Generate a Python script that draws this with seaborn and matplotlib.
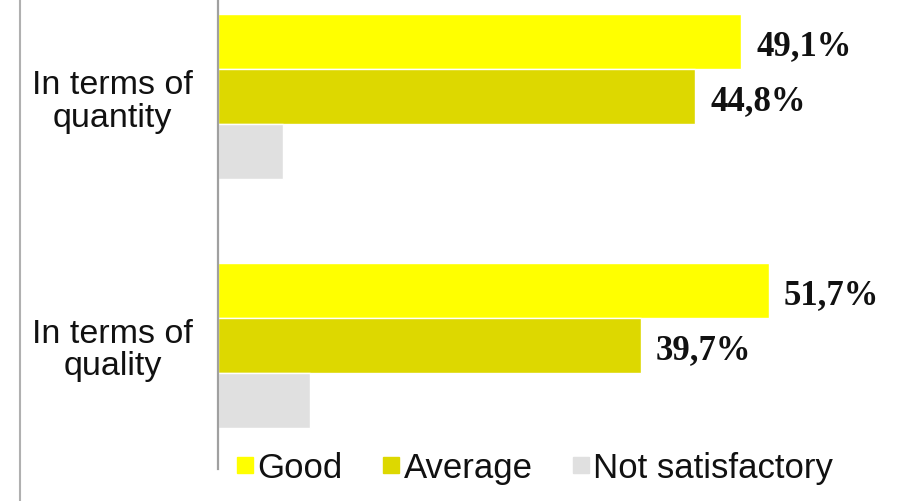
import matplotlib
matplotlib.use("Agg")
import matplotlib.pyplot as plt
import seaborn as sns
import pandas as pd
from matplotlib.lines import Line2D

# Survey results (percent of respondents)
categories = ["In terms of\nquantity", "In terms of\nquality"]
ratings = ["Good", "Average", "Not satisfactory"]
good = [49.1, 51.7]
average = [44.8, 39.7]
not_satisfactory = [6.1, 8.6]
colors = ["#FFFF00", "#DDD800", "#E0E0E0"]

rows = []
for i, cat in enumerate(categories):
    for rating, vals in zip(ratings, [good, average, not_satisfactory]):
        rows.append({"category": cat, "rating": rating, "value": vals[i]})
df = pd.DataFrame(rows)

sns.set_theme(style="white")
plt.rcParams["font.family"] = ["Liberation Sans", "DejaVu Sans"]

W, H = 903, 502
fig = plt.figure(figsize=(W / 100, H / 100), dpi=100)
ax = fig.add_axes([218 / W, 32 / H, 1 - 218 / W, 1 - 32 / H])

sns.barplot(data=df, y="category", x="value", hue="rating", orient="h",
            order=categories, hue_order=ratings, palette=colors,
            width=0.663, saturation=1, ax=ax, legend=False)

# value labels for the Good and Average bars
for container, rating in zip(ax.containers, ratings):
    if rating == "Not satisfactory":
        continue
    for bar, v in zip(container.patches, container.datavalues):
        yc = bar.get_y() + bar.get_height() / 2
        ax.annotate(f"{v:.1f}%".replace(".", ","), xy=(v, yc),
                    xytext=(11, -3), textcoords="offset points",
                    ha="left", va="center", fontsize=25, fontweight="bold",
                    color="#111111", family=["Liberation Serif", "DejaVu Serif"])

ax.set_xlim(0, (W - 218) / 10.65)
ax.set_ylim(1.498, -0.39)
ax.set_xlabel("")
ax.set_ylabel("")
ax.set_xticks([])
ax.tick_params(axis="y", length=0, pad=18, labelsize=24.5, labelcolor="#111111")
for lbl in ax.get_yticklabels():
    lbl.set_multialignment("center")
    lbl.set_linespacing(1.08)

for s in ["top", "right", "bottom"]:
    ax.spines[s].set_visible(False)
ax.spines["left"].set_color("#A0A0A0")
ax.spines["left"].set_linewidth(1.6)

# legend along the bottom
handles = [Line2D([0], [0], marker="s", linestyle="", markersize=11,
                  markerfacecolor=c, markeredgecolor=c) for c in colors]
fig.legend(handles, ratings, loc="center", bbox_to_anchor=(535 / W, 1 - 469 / H),
           ncol=3, frameon=False, fontsize=25, handlelength=0.5,
           handletextpad=0.1, columnspacing=1.15, labelcolor="#111111")

# outer chart border on the left
fig.add_artist(Line2D([20 / W, 20 / W], [0, 1], color="#B0B0B0", linewidth=1.5,
                      transform=fig.transFigure))

fig.savefig("out.png", dpi=100)
